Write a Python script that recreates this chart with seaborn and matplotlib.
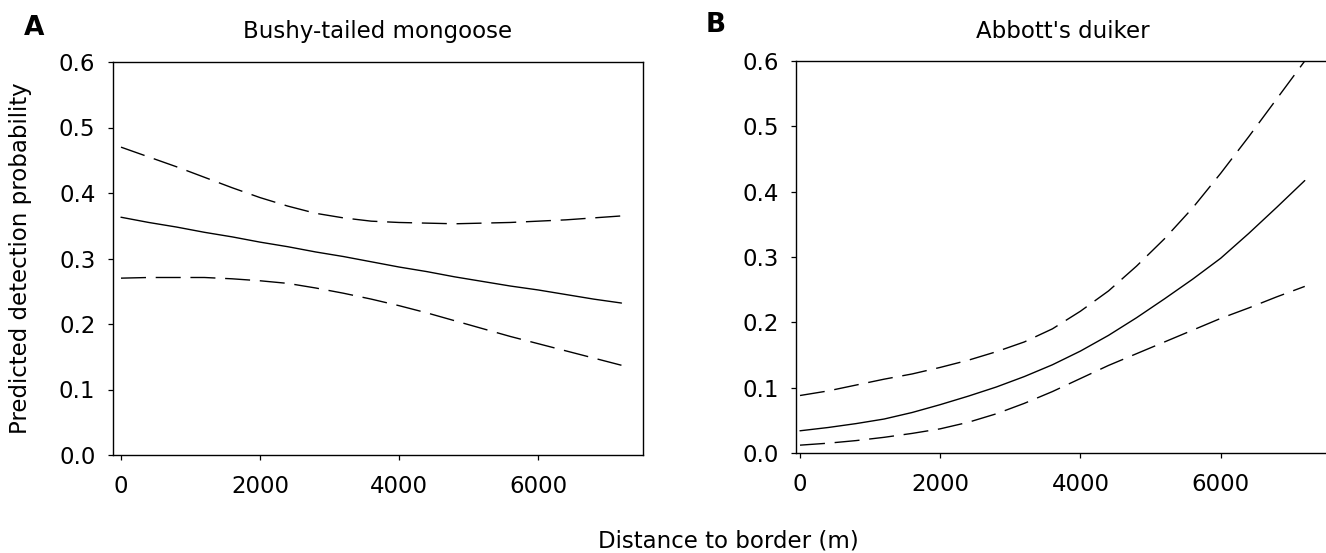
"""
    Predicted detection probability vs distance to border, two species.
"""

import pandas as pd
import matplotlib
matplotlib.use("Agg")
import matplotlib.pyplot as plt
import seaborn as sns

# Distances (m)
distance = [0, 400, 800, 1200, 1600, 2000, 2400, 2800, 3200, 3600,
            4000, 4400, 4800, 5200, 5600, 6000, 6400, 6800, 7200]

# Panel A: Bushy-tailed mongoose
mongoose_mean = [0.363, 0.355, 0.348, 0.340, 0.333, 0.325, 0.318, 0.310, 0.303, 0.295,
                 0.287, 0.280, 0.272, 0.265, 0.258, 0.252, 0.245, 0.238, 0.232]
mongoose_upper = [0.470, 0.455, 0.440, 0.424, 0.408, 0.393, 0.380, 0.369, 0.362, 0.357,
                  0.355, 0.354, 0.353, 0.354, 0.355, 0.357, 0.359, 0.362, 0.365]
mongoose_lower = [0.270, 0.271, 0.271, 0.271, 0.269, 0.266, 0.262, 0.255, 0.247, 0.238,
                  0.228, 0.217, 0.205, 0.193, 0.181, 0.170, 0.159, 0.148, 0.137]

# Panel B: Abbott's duiker
duiker_mean = [0.034, 0.039, 0.045, 0.052, 0.062, 0.074, 0.087, 0.101, 0.117, 0.135,
               0.156, 0.180, 0.207, 0.236, 0.266, 0.298, 0.336, 0.376, 0.417]
duiker_upper = [0.088, 0.095, 0.104, 0.113, 0.121, 0.131, 0.142, 0.155, 0.170, 0.190,
                0.217, 0.248, 0.286, 0.328, 0.375, 0.428, 0.484, 0.542, 0.600]
duiker_lower = [0.012, 0.015, 0.019, 0.024, 0.030, 0.037, 0.047, 0.060, 0.076, 0.094,
                0.114, 0.134, 0.152, 0.170, 0.188, 0.206, 0.222, 0.239, 0.255]

titles = ["Bushy-tailed mongoose", "Abbott's duiker"]
letters = ["A", "B"]
y_ticks = [0.0, 0.1, 0.2, 0.3, 0.4, 0.5, 0.6]
x_ticks = [0, 2000, 4000, 6000]

sns.set_theme(style="ticks")
plt.rcParams['font.family'] = ['DejaVu Sans']

W, H = 1326, 553


def make_frame(mean, upper, lower):
    df = pd.DataFrame({'distance': distance, 'mean': mean, 'upper': upper, 'lower': lower})
    return df.melt(id_vars='distance', var_name='curve', value_name='prob')


panels = [
    make_frame(mongoose_mean, mongoose_upper, mongoose_lower),
    make_frame(duiker_mean, duiker_upper, duiker_lower),
]

fig = plt.figure(figsize=(W / 100, H / 100), dpi=100)
# axes boxes in pixels: left, top, right, bottom
boxes = [(113, 62, 643, 455), (796, 61, 1330, 453)]
xlims = [(-115, 7510), (-57, 7560)]
axes = []
for (l, t, r, b) in boxes:
    axes.append(fig.add_axes([l / W, 1 - b / H, (r - l) / W, (b - t) / H]))

for i, (ax, data) in enumerate(zip(axes, panels)):
    sns.lineplot(
        data=data, x='distance', y='prob', style='curve',
        style_order=['mean', 'upper', 'lower'],
        dashes={'mean': '', 'upper': (18, 7), 'lower': (18, 7)},
        color='black', linewidth=1.0, legend=False, ax=ax
    )
    ax.set_xlim(*xlims[i])
    ax.set_ylim(0, 0.6)
    ax.set_xticks(x_ticks)
    ax.set_yticks(y_ticks)
    ax.set_yticklabels([f"{t:.1f}" for t in y_ticks])
    ax.tick_params(labelsize=16.5, length=3.6, width=0.9, color='black', labelcolor='black')
    ax.tick_params(axis='x', pad=11)
    ax.tick_params(axis='y', pad=9)
    ax.set_xlabel('')
    ax.set_ylabel('')
    for sp in ax.spines.values():
        sp.set_visible(True)
        sp.set_color('black')
        sp.set_linewidth(1.0)
    l, t, r, b = boxes[i]
    fig.text((l + r) / 2 / W, 1 - 38 / H, titles[i], fontsize=16.5,
             ha='center', va='baseline', color='black')

fig.text(34 / W, 1 - 28 / H, letters[0], fontsize=19, fontweight='bold',
         ha='center', va='center', color='black')
fig.text(716 / W, 1 - 25 / H, letters[1], fontsize=19, fontweight='bold',
         ha='center', va='center', color='black')
fig.text(21 / W, 1 - 258 / H, 'Predicted detection probability', fontsize=16.5,
         rotation=90, ha='center', va='center', color='black')
fig.text(598 / W, 1 - 547 / H, 'Distance to border (m)', fontsize=16.5,
         ha='left', va='baseline', color='black')

fig.savefig('out.png', dpi=100)
plt.close(fig)
